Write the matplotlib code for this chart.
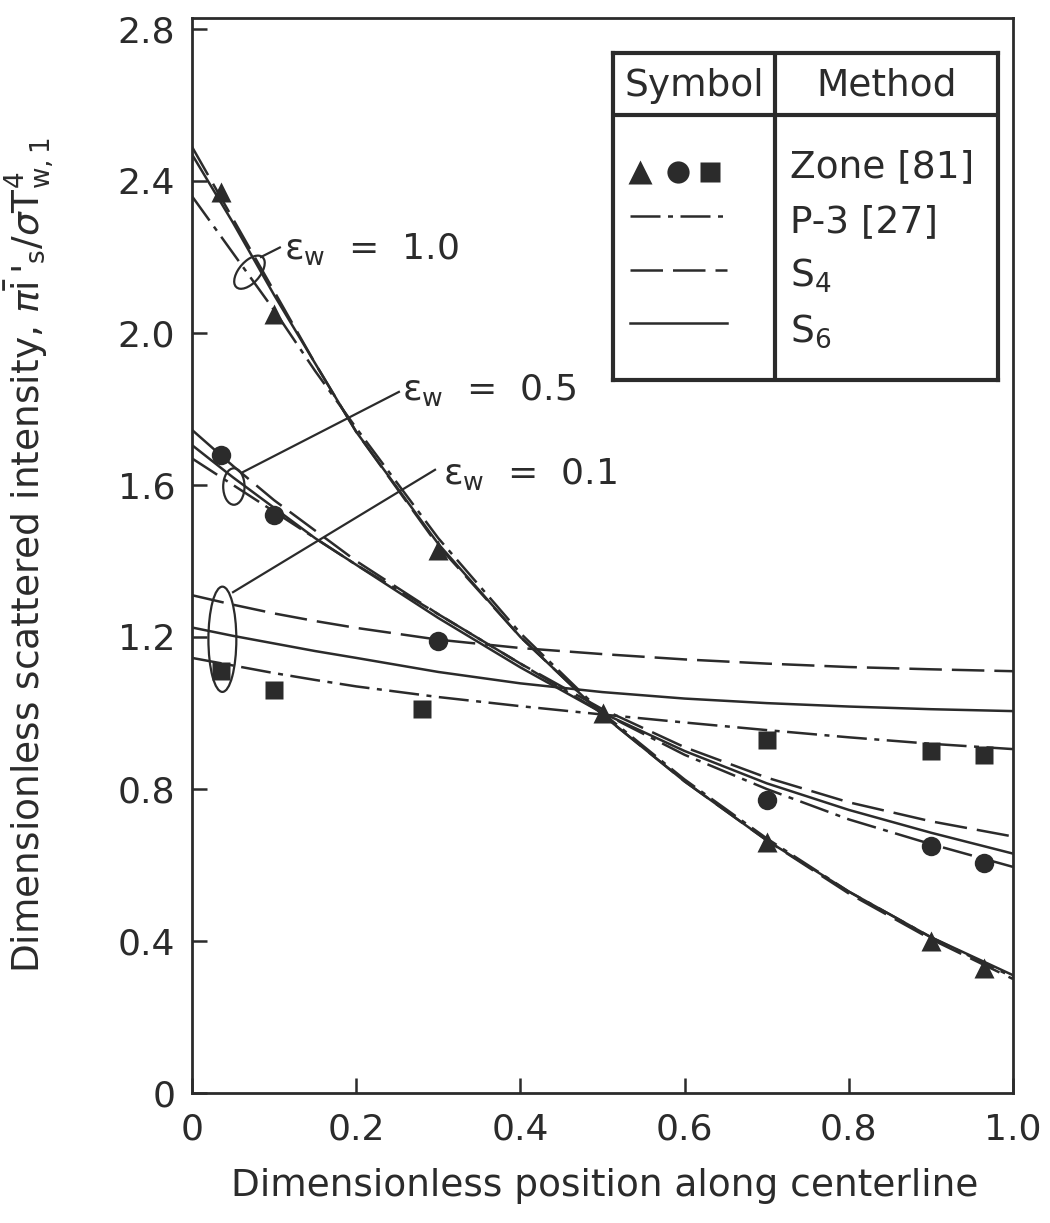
import matplotlib
matplotlib.use("Agg")
import matplotlib.pyplot as plt
from matplotlib.patches import Ellipse
from matplotlib.lines import Line2D

plt.rcParams['font.family'] = ['DejaVu Sans']

ink = '#2b2b2b'

x_curve = [0, 0.05, 0.1, 0.15, 0.2, 0.3, 0.4, 0.5, 0.6, 0.7, 0.8, 0.9, 1.0]

# eps_w = 1.0
s4_e10 = [2.49, 2.30, 2.11, 1.92, 1.74, 1.44, 1.20, 0.995, 0.82, 0.665, 0.525, 0.405, 0.30]
s6_e10 = [2.47, 2.29, 2.10, 1.92, 1.74, 1.445, 1.20, 0.995, 0.82, 0.665, 0.53, 0.41, 0.31]
p3_e10 = [2.36, 2.21, 2.06, 1.90, 1.75, 1.46, 1.21, 1.00, 0.825, 0.67, 0.53, 0.41, 0.305]

# eps_w = 0.5
s4_e05 = [1.745, 1.65, 1.56, 1.48, 1.40, 1.26, 1.13, 1.01, 0.91, 0.83, 0.765, 0.715, 0.675]
s6_e05 = [1.705, 1.62, 1.54, 1.46, 1.39, 1.25, 1.12, 1.00, 0.90, 0.815, 0.745, 0.685, 0.63]
p3_e05 = [1.67, 1.60, 1.53, 1.46, 1.39, 1.26, 1.13, 1.00, 0.89, 0.80, 0.72, 0.655, 0.595]

# eps_w = 0.1
s4_e01 = [1.31, 1.285, 1.262, 1.242, 1.224, 1.193, 1.171, 1.155, 1.141, 1.13, 1.121, 1.115, 1.11]
s6_e01 = [1.225, 1.203, 1.183, 1.163, 1.145, 1.108, 1.078, 1.055, 1.038, 1.026, 1.017, 1.01, 1.005]
p3_e01 = [1.145, 1.125, 1.105, 1.087, 1.07, 1.042, 1.018, 0.996, 0.975, 0.955, 0.936, 0.919, 0.905]

# zone method results
tri_x = [0.035, 0.1, 0.3, 0.5, 0.7, 0.9, 0.965]
tri_y = [2.37, 2.05, 1.43, 1.0, 0.66, 0.40, 0.33]
circ_x = [0.035, 0.1, 0.3, 0.7, 0.9, 0.965]
circ_y = [1.68, 1.52, 1.19, 0.77, 0.65, 0.605]
sq_x = [0.035, 0.1, 0.28, 0.7, 0.9, 0.965]
sq_y = [1.11, 1.06, 1.01, 0.93, 0.90, 0.89]

xticks = [0, 0.2, 0.4, 0.6, 0.8, 1.0]
xticklabels = ['0', '0.2', '0.4', '0.6', '0.8', '1.0']
yticks = [0, 0.4, 0.8, 1.2, 1.6, 2.0, 2.4, 2.8]
yticklabels = ['0', '0.4', '0.8', '1.2', '1.6', '2.0', '2.4', '2.8']

W, H = 1050, 1223
fig = plt.figure(figsize=(W / 100, H / 100), dpi=100)
ax = fig.add_axes([192 / W, 1 - 1093 / H, 821 / W, (1093 - 17.6) / H])

lw = 1.8
dash = (0, (13, 4))
dashdot = (0, (12, 3, 2, 3))

for ys in (s4_e10, s4_e05, s4_e01):
    ax.plot(x_curve, ys, color=ink, lw=lw, linestyle=dash)
for ys in (s6_e10, s6_e05, s6_e01):
    ax.plot(x_curve, ys, color=ink, lw=lw, linestyle='-')
for ys in (p3_e10, p3_e05, p3_e01):
    ax.plot(x_curve, ys, color=ink, lw=lw, linestyle=dashdot)

ax.plot(tri_x, tri_y, '^', color=ink, ms=15, mec='none', zorder=3)
ax.plot(circ_x, circ_y, 'o', color=ink, ms=14, mec='none', zorder=3)
ax.plot(sq_x, sq_y, 's', color=ink, ms=12.5, mec='none', zorder=3)

# ellipses and leaders marking the emissivity groups
ell_kw = dict(fill=False, ec=ink, lw=1.6, zorder=4)
ax.add_patch(Ellipse((0.07, 2.16), 0.03, 0.09, angle=-15, **ell_kw))
ax.add_patch(Ellipse((0.051, 1.596), 0.026, 0.096, **ell_kw))
ax.add_patch(Ellipse((0.037, 1.194), 0.034, 0.277, **ell_kw))

ax.plot([0.084, 0.107], [2.20, 2.225], color=ink, lw=1.6)
ax.plot([0.062, 0.252], [1.634, 1.845], color=ink, lw=1.6)
ax.plot([0.050, 0.296], [1.318, 1.64], color=ink, lw=1.6)

ann_kw = dict(fontsize=26, color=ink, va='center', ha='left')
ax.text(0.112, 2.22, r'$\mathrm{\epsilon}_{\mathrm{w}}$  =  1.0', **ann_kw)
ax.text(0.256, 1.85, r'$\mathrm{\epsilon}_{\mathrm{w}}$  =  0.5', **ann_kw)
ax.text(0.306, 1.63, r'$\mathrm{\epsilon}_{\mathrm{w}}$  =  0.1', **ann_kw)

ax.set_xlim(0, 1.0)
ax.set_ylim(0, 2.83)
ax.set_xticks(xticks)
ax.set_xticklabels(xticklabels)
ax.set_yticks(yticks)
ax.set_yticklabels(yticklabels)
ax.tick_params(direction='in', length=11, width=1.8, labelsize=26,
               colors=ink, pad=12)
ax.tick_params(axis='x', pad=14)
for sp in ax.spines.values():
    sp.set_linewidth(2.0)
    sp.set_color(ink)

ax.set_xlabel('Dimensionless position along centerline',
              fontsize=27, color=ink)
ax.xaxis.set_label_coords(0.503, -0.07)
ax.set_ylabel(r"Dimensionless scattered intensity, $\pi\bar{\mathrm{i}}\,'_{\mathrm{s}}/\sigma\mathrm{T}^{4}_{\mathrm{w,1}}$",
              fontsize=27, color=ink)
ax.yaxis.set_label_coords(-0.166, 0.5)

# legend table
leg = fig.add_axes([613 / W, 1 - 380 / H, 385 / W, 327 / H])
leg.set_xlim(0, 1)
leg.set_ylim(0, 1)
leg.set_xticks([])
leg.set_yticks([])
leg.set_facecolor('white')
for sp in leg.spines.values():
    sp.set_linewidth(3)
    sp.set_color(ink)
leg.add_line(Line2D([0.42, 0.42], [0, 1], color=ink, lw=3))
leg.add_line(Line2D([0, 1], [0.81, 0.81], color=ink, lw=3))

lt = dict(fontsize=27, color=ink, va='center')
leg.text(0.21, 0.90, 'Symbol', ha='center', **lt)
leg.text(0.71, 0.90, 'Method', ha='center', **lt)
leg.text(0.46, 0.650, 'Zone [81]', ha='left', **lt)
leg.text(0.46, 0.483, 'P-3 [27]', ha='left', **lt)
leg.text(0.46, 0.320, r'S$_4$', ha='left', **lt)
leg.text(0.46, 0.150, r'S$_6$', ha='left', **lt)

leg.plot([0.07], [0.636], '^', color=ink, ms=17, mec='none')
leg.plot([0.169], [0.636], 'o', color=ink, ms=16, mec='none')
leg.plot([0.252], [0.636], 's', color=ink, ms=14, mec='none')
leg.plot([0.044, 0.296], [0.50, 0.50], color=ink, lw=lw, linestyle=dashdot)
leg.plot([0.044, 0.296], [0.337, 0.337], color=ink, lw=lw, linestyle=dash)
leg.plot([0.044, 0.296], [0.174, 0.174], color=ink, lw=lw, linestyle='-')

fig.savefig('out.png', dpi=100, facecolor='white')
